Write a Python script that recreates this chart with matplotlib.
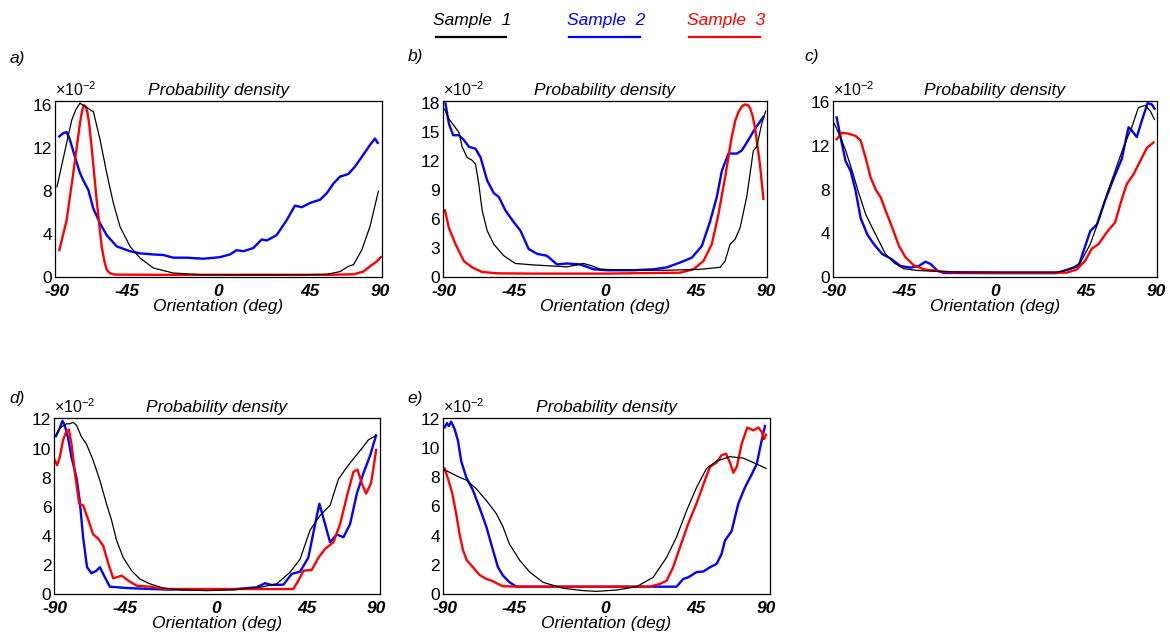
### orientation distributions, five panels a) - e)

import matplotlib
matplotlib.use('Agg')
import matplotlib.pyplot as plt
from matplotlib.lines import Line2D

# all densities are in units of 1e-2 (see the x10^-2 label)

# ---- panel a
a_deg_s1 = [-90, -85.5, -81.8, -79.5, -77.2, -75.5, -73.5, -69.7, -66, -62.3, -58.6, -54.9, -49.3,
            -43.7, -36.3, -25.2, -10.3, 10, 30, 50, 60.3, 67.7, 72.4, 75.2, 79.8, 84.4, 89.1]
a_val_s1 = [8.4, 11.8, 14.6, 15.6, 16.2, 16.0, 15.8, 15.4, 12.8, 9.7, 6.9, 4.7, 2.85,
            1.76, 0.84, 0.37, 0.22, 0.2, 0.2, 0.22, 0.25, 0.5, 1.0, 1.15, 2.5, 4.7, 8.0]
a_deg_s2 = [-88.7, -86.5, -84.6, -82.8, -80, -77.2, -75.3, -72.5, -69.8, -66, -62.3, -56.7, -49.3,
            -43.7, -36.3, -30.7, -25.2, -17.7, -8.4, 0.8, 6.4, 10.1, 13.9, 19.4, 24.1, 26.9, 32.4,
            38, 42.6, 46.4, 51, 56.6, 60.3, 64, 67.7, 72.4, 76.1, 80.7, 84.4, 87.2, 88.7]
a_val_s2 = [13.1, 13.4, 13.5, 12.8, 11.2, 9.7, 9.0, 8.1, 6.4, 5.0, 3.9, 2.85, 2.4,
            2.2, 2.1, 2.05, 1.8, 1.8, 1.7, 1.85, 2.1, 2.5, 2.4, 2.7, 3.5, 3.4, 3.9,
            5.3, 6.65, 6.5, 6.9, 7.2, 7.8, 8.7, 9.35, 9.6, 10.3, 11.4, 12.3, 12.9, 12.5]
a_deg_s3 = [-88.7, -84.6, -80.9, -77.2, -76, -75, -74, -73.1, -72, -70.7, -67.9, -65.1, -63.5,
            -62.3, -60.5, -57.7, -30, 0, 30, 60, 75.2, 80.7, 84.4, 88.2, 90.4]
a_val_s3 = [2.5, 5.3, 9.7, 14.3, 15.5, 16.0, 15.9, 15.4, 14.2, 12.1, 7.2, 2.85, 1.4,
            0.68, 0.35, 0.22, 0.2, 0.2, 0.2, 0.2, 0.25, 0.5, 1.0, 1.45, 1.85]

# ---- panel b
b_deg_s1 = [-89.6, -87.2, -84.4, -81.6, -79.8, -77, -74.2, -72.3, -70.5, -68.6, -65.8, -62.1, -56.5,
            -50, -39.8, -30.5, -21.2, -11.9, -7.3, -2.6, 16, 34.6, 53.2, 64.3, 67.1, 69.9, 72.7,
            75.5, 79.2, 82.9, 84.8, 87.6, 89.8]
b_val_s1 = [17.4, 16.4, 15.7, 15.0, 13.5, 12.4, 12.1, 11.7, 9.65, 6.9, 4.8, 3.4, 2.2,
            1.4, 1.25, 1.15, 1.05, 1.4, 1.15, 0.8, 0.7, 0.7, 0.8, 1.0, 1.65, 3.4, 3.9,
            5.1, 8.3, 13.1, 13.5, 15.9, 17.2]
b_deg_s2 = [-89.1, -87.2, -84.8, -81.6, -78.8, -76, -72.3, -69.5, -65.8, -62.1, -59.3, -55.6, -51,
            -47.2, -42.6, -37.9, -32.4, -26.8, -21.2, -13.8, -6.3, 1.1, 16, 27.1, 34.6, 42, 48.5,
            54.1, 58.8, 62.5, 65.3, 69, 73.6, 76.4, 80.1, 83.9, 88.5]
b_val_s2 = [18.0, 15.9, 14.7, 14.7, 14.2, 13.5, 13.3, 12.4, 10.0, 8.7, 8.3, 6.9, 5.7,
            4.8, 2.9, 2.4, 2.2, 1.3, 1.4, 1.3, 0.8, 0.7, 0.7, 0.8, 1.0, 1.5, 2.0,
            3.2, 5.8, 8.3, 11.0, 12.8, 12.8, 13.1, 14.2, 15.4, 16.6]
b_deg_s3 = [-89.4, -87.2, -83.5, -78.8, -74.2, -68.6, -60.2, -39.8, 0, 42, 49.5, 55, 59.7,
            63.4, 67.1, 70.8, 72.8, 74.6, 76.5, 78.3, 80, 81.1, 82.5, 83.9, 86.6, 88.5]
b_val_s3 = [6.9, 5.1, 3.4, 1.65, 1.0, 0.52, 0.38, 0.35, 0.35, 0.45, 0.8, 1.65, 3.4,
            6.5, 10.3, 14.5, 16.2, 17.1, 17.7, 17.9, 17.8, 17.5, 16.7, 15.4, 11.7, 8.1]

# ---- panel c
c_deg_s1 = [-90, -87.2, -83.5, -79.8, -76, -72.3, -68.6, -64.9, -61.2, -56.5, -51, -43.6, -30.5,
            -21.2, 0, 34.6, 42, 47.6, 53.2, 57.8, 62.5, 67.1, 71.8, 76.4, 80.1, 83.9, 86.7, 89.1]
c_val_s1 = [14.1, 13.1, 11.6, 9.7, 7.6, 5.75, 4.5, 3.3, 2.1, 1.3, 0.76, 0.6, 0.5,
            0.46, 0.45, 0.45, 0.7, 1.3, 3.0, 5.1, 7.6, 9.7, 11.9, 13.7, 15.5, 15.7, 15.2, 14.4]
c_deg_s2 = [-88.5, -86.3, -83.5, -80.7, -77.9, -75.1, -71.4, -67.7, -63, -58.4, -52.8, -47.2, -42.6,
            -38.9, -36.1, -32.4, -28.6, 0, 34.6, 42, 46.7, 49.5, 53.2, 56.9, 61.5, 66.2, 70.8,
            74.6, 76.4, 79.2, 82, 85.2, 87.6, 89.1]
c_val_s2 = [14.6, 12.8, 10.6, 9.7, 7.9, 5.4, 3.9, 3.0, 2.1, 1.7, 1.0, 0.86, 1.0,
            1.4, 1.2, 0.6, 0.37, 0.35, 0.35, 0.76, 1.0, 2.4, 4.2, 4.8, 7.0, 9.0, 10.8,
            13.7, 13.4, 12.8, 14.3, 15.9, 15.8, 15.4]
c_deg_s3 = [-88.5, -85.4, -81.6, -77.9, -75.1, -72.3, -69.5, -66.7, -63.9, -61.2, -57.4, -53.7, -50,
            -45.4, -39.8, -32.4, -24.9, 0, 40.2, 45.8, 50.4, 54.1, 57.8, 62.5, 67.1, 70.8, 73.6,
            77.4, 81.1, 84.8, 88.5]
c_val_s3 = [12.6, 13.2, 13.1, 12.9, 12.5, 10.9, 9.1, 8.0, 7.3, 6.1, 4.5, 2.85, 1.8,
            1.07, 0.7, 0.55, 0.43, 0.4, 0.4, 0.7, 1.5, 2.6, 3.0, 4.1, 5.0, 7.1, 8.5,
            9.4, 10.6, 11.8, 12.3]

# ---- panel d
d_deg_s1 = [-89.6, -87.4, -83.6, -81.8, -79.9, -78, -75.2, -72.4, -68.7, -64.9, -61.2, -58.4, -55.6,
            -51.8, -47.1, -42.5, -36.9, -29.4, -18.1, -5, 10, 24.9, 34.3, 41.8, 47.4, 53, 58.6,
            64.2, 68.9, 73.5, 77.3, 82, 85.7, 90]
d_val_s1 = [10.9, 11.4, 11.7, 11.7, 11.8, 11.6, 10.8, 10.3, 9.2, 7.8, 6.2, 5.1, 3.7,
            2.5, 1.6, 1.03, 0.7, 0.41, 0.28, 0.23, 0.3, 0.46, 0.7, 1.5, 2.4, 4.4, 5.4,
            6.1, 7.9, 8.7, 9.3, 10.0, 10.6, 10.9]
d_deg_s2 = [-89.6, -87.4, -85.9, -84.6, -82.7, -80.8, -78, -76.2, -74.3, -72.1, -69.6, -66.8, -64.9,
            -62.1, -59.3, -49.9, -27.5, 10, 23, 27.7, 31.4, 38, 42.7, 47.4, 52, 55.8, 58.2,
            61.4, 64.2, 67.9, 71.7, 75.4, 79.2, 82.9, 86.6, 90]
d_val_s2 = [10.85, 11.4, 11.9, 11.6, 10.7, 9.4, 8.0, 6.4, 3.9, 1.84, 1.43, 1.6, 1.84,
            1.15, 0.5, 0.41, 0.3, 0.32, 0.46, 0.74, 0.62, 0.64, 1.38, 1.54, 2.5, 4.8, 6.2,
            4.8, 3.56, 4.1, 3.9, 4.8, 6.9, 8.3, 9.5, 10.9]
d_deg_s3 = [-90.2, -88.9, -87.4, -85.5, -83.6, -82.3, -80.8, -78.9, -76.5, -74.3, -71.4, -68.7, -65.8,
            -63, -60.2, -57.4, -52.7, -49, -44.3, -36.9, -27.5, 0, 43.6, 46.4, 49.3, 53.9, 57.7,
            61.4, 66.1, 69.8, 73.6, 77.3, 79.6, 82, 84.4, 87.1, 88.6, 90]
d_val_s3 = [9.2, 8.85, 9.4, 10.6, 11.2, 11.3, 10.3, 8.3, 6.2, 6.1, 5.1, 4.1, 3.8,
            3.3, 2.1, 1.08, 1.26, 0.92, 0.57, 0.5, 0.34, 0.34, 0.34, 0.92, 1.6, 1.65, 2.5,
            3.1, 3.56, 4.8, 6.7, 8.4, 8.55, 7.6, 6.9, 7.6, 8.7, 9.9]

# ---- panel e
e_deg_s1 = [-90, -83.5, -77.9, -72.2, -66.6, -61, -57.3, -53.6, -47.9, -42.3, -34.9, -23.6, -12.4,
            -5, 6.3, 17.5, 26.8, 34.3, 39.9, 45.5, 51.1, 56.7, 62.3, 69.8, 77.3, 82.9, 90]
e_val_s1 = [8.5, 8.1, 7.8, 7.2, 6.4, 5.5, 4.6, 3.4, 2.3, 1.5, 0.8, 0.39, 0.23,
            0.18, 0.27, 0.5, 1.14, 2.5, 3.9, 5.7, 7.3, 8.6, 9.1, 9.4, 9.3, 9.0, 8.6]
e_deg_s2 = [-90, -88.7, -87.6, -86.3, -84.4, -82.5, -80.7, -77.9, -74.1, -70.4, -66.6, -62.9, -60.1,
            -57.3, -53.6, -49.8, 0, 39.9, 43.6, 46.4, 51.1, 54.9, 58.6, 62.3, 65.1, 67, 70.7,
            74.5, 78.2, 82, 84.8, 87, 89.4]
e_val_s2 = [11.4, 11.7, 11.5, 11.8, 11.3, 10.5, 9.1, 8.0, 7.1, 5.9, 4.6, 3.0, 1.83,
            1.26, 0.8, 0.5, 0.5, 0.5, 1.03, 1.14, 1.5, 1.54, 1.83, 2.06, 2.74, 3.66, 4.3,
            6.2, 7.3, 8.2, 8.9, 10.2, 11.5]
e_deg_s3 = [-90, -88.1, -85.7, -83.5, -81.6, -79.7, -77.5, -74.1, -70.4, -66.6, -62.9, -60.1, -57.3,
            -46.1, 0, 25, 30.6, 34.3, 38, 41.8, 46.4, 51.1, 55.8, 58.6, 62.3, 65.1, 67.6,
            69.8, 71.7, 73.6, 76.4, 79.5, 82.9, 85.7, 87.6, 88.9, 90]
e_val_s3 = [8.6, 7.9, 6.9, 5.5, 4.1, 3.0, 2.3, 1.83, 1.3, 1.03, 0.87, 0.69, 0.53,
            0.5, 0.5, 0.5, 0.69, 0.91, 1.83, 3.2, 4.8, 6.2, 7.8, 8.7, 9.0, 9.5, 9.6,
            9.0, 8.3, 8.7, 10.3, 11.4, 11.2, 11.4, 11.1, 10.6, 10.9]

# tick labels
x_tick_pos = [-90, -51, 0, 51, 90]
x_tick_labels = ['-90', '-45', '0', '45', '90']
y_ticks_16 = [0, 4, 8, 12, 16]
y_ticks_18 = [0, 3, 6, 9, 12, 15, 18]
y_ticks_12 = [0, 2, 4, 6, 8, 10, 12]

sample_names = ['Sample  1', 'Sample  2', 'Sample  3']
sample_colors = ['black', '#0000ff', '#ff0000']
sample_lw = [0.9, 1.7, 1.7]

FS = 12.5


def draw_panel(fig, rect, xlim, ylim, yticks, series):
    ax = fig.add_axes(rect)
    for i, (deg, val) in enumerate(series):
        ax.plot(deg, val, color=sample_colors[i], linewidth=sample_lw[i])
    # black line sits on top in the original
    ax.lines[0].set_zorder(3)
    ax.set_xlim(xlim)
    ax.set_ylim(ylim)
    ax.set_xticks(x_tick_pos)
    ax.set_xticklabels(x_tick_labels, fontweight='bold', fontstyle='italic', fontsize=FS)
    ax.set_yticks(yticks)
    ax.set_yticklabels([str(t) for t in yticks], fontsize=FS)
    ax.tick_params(axis='x', length=0, pad=5)
    ax.tick_params(axis='y', length=0, pad=2)
    ax.set_title('Probability density', fontstyle='italic', fontsize=FS, pad=4)
    ax.set_xlabel('Orientation (deg)', fontstyle='italic', fontsize=FS, labelpad=0)
    ax.text(0.0, 1.012, r'$\times10^{-2}$', transform=ax.transAxes, fontsize=11.5,
            ha='left', va='bottom')
    for sp in ax.spines.values():
        sp.set_linewidth(0.9)
    return ax


def main():
    plt.rcParams['font.family'] = ['Liberation Sans', 'DejaVu Sans']
    plt.rcParams['mathtext.fontset'] = 'custom'
    plt.rcParams['mathtext.rm'] = 'Liberation Sans'
    plt.rcParams['axes.unicode_minus'] = False

    fig = plt.figure(figsize=(11.7, 6.4), dpi=100)

    draw_panel(fig, [0.0470, 0.5672, 0.2795, 0.275], (-91.1, 91.1), (0, 16.4), y_ticks_16,
               [(a_deg_s1, a_val_s1), (a_deg_s2, a_val_s2), (a_deg_s3, a_val_s3)])
    draw_panel(fig, [0.3786, 0.5672, 0.2769, 0.275], (-90.5, 90.5), (0, 18.25), y_ticks_18,
               [(b_deg_s1, b_val_s1), (b_deg_s2, b_val_s2), (b_deg_s3, b_val_s3)])
    draw_panel(fig, [0.7120, 0.5672, 0.2769, 0.275], (-90.5, 90.5), (0, 16.1), y_ticks_16,
               [(c_deg_s1, c_val_s1), (c_deg_s2, c_val_s2), (c_deg_s3, c_val_s3)])
    draw_panel(fig, [0.0462, 0.0719, 0.2786, 0.275], (-90.6, 92.2), (0, 12.1), y_ticks_12,
               [(d_deg_s1, d_val_s1), (d_deg_s2, d_val_s2), (d_deg_s3, d_val_s3)])
    draw_panel(fig, [0.3786, 0.0719, 0.2795, 0.275], (-90.9, 92.2), (0, 12.05), y_ticks_12,
               [(e_deg_s1, e_val_s1), (e_deg_s2, e_val_s2), (e_deg_s3, e_val_s3)])

    # panel letters
    for lab, x, y in [('a)', 17, 58), ('b)', 415, 57), ('c)', 812, 57),
                      ('d)', 17, 398), ('e)', 415, 398)]:
        fig.text(x / 1170, 1 - y / 640, lab, fontstyle='italic', fontsize=FS,
                 ha='center', va='center')

    # legend: names on top, line sample underneath
    text_x = [472, 606, 726]
    line_x = [(436, 506), (569, 640), (689, 760)]
    for i in range(3):
        fig.text(text_x[i] / 1170, 1 - 20 / 640, sample_names[i], color=sample_colors[i],
                 fontstyle='italic', fontsize=FS, ha='center', va='center')
        x0, x1 = line_x[i]
        fig.add_artist(Line2D([x0 / 1170, x1 / 1170], [1 - 37 / 640, 1 - 37 / 640],
                              color=sample_colors[i], linewidth=1.6,
                              transform=fig.transFigure))

    fig.savefig("out.png", dpi=100)


if __name__ == "__main__":
    main()
